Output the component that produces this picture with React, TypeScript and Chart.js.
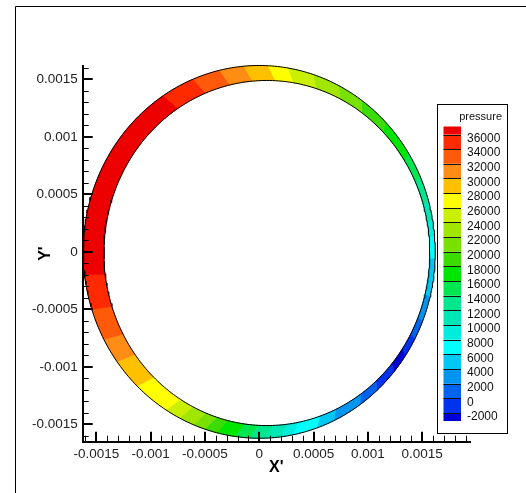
import { useEffect, useRef } from "react";
import { Chart, registerables } from "chart.js";

Chart.register(...registerables);

// ---- Data ----
// Boundaries (degrees, counter-clockwise from +X', around the bearing centre) of the contour cells of the ring
const cellAngles = [
  -180, -173, -162, -152, -144, -134, -122, -117, -112, -108, -104, -98, -93, -88, -83, -79,
  -71, -65, -55, -48, -40, -34, -28, -22, -14, -2, 5, 10, 16, 24, 32, 44, 54, 63, 72, 80.5,
  87, 95, 103, 112, 123, 180,
];
// Pressure in each cell (between consecutive boundaries above)
const cellPressure = [
  37000, 35000, 33000, 31000, 29000, 27000, 25000, 23000, 21000, 19000, 17000, 15000, 13000,
  11000, 9000, 7000, 5000, 3000, 1000, -1000, -3000, -1000, 1000, 3000, 5000, 7000, 9000,
  11000, 13000, 15000, 17000, 19000, 21000, 23000, 25000, 27000, 29000, 31000, 33000, 35000,
  37000,
];
// Contour levels shown in the legend
const levels = [
  36000, 34000, 32000, 30000, 28000, 26000, 24000, 22000, 20000, 18000, 16000, 14000, 12000,
  10000, 8000, 6000, 4000, 2000, 0, -2000,
];
// Band colours, from above the highest level down to below the lowest level
const bandColors = [
  "#ec0000", "#ff2a00", "#ff5a0a", "#ff8c14", "#ffc000", "#ffff00", "#c8f000", "#a0e600",
  "#78e100", "#3cdc00", "#00e600", "#00e650", "#00e68c", "#00e6b4", "#00ecdc", "#00ffff",
  "#00c8f5", "#0096f0", "#0064f0", "#0032f0", "#0000d2",
];
// Axis tick values
const axisTicks = [-0.0015, -0.001, -0.0005, 0, 0.0005, 0.001, 0.0015];

// Geometry of the ring (bearing bore and eccentric journal)
const OUTER_R = 0.00162;
const OUTER_C = { x: 0, y: 0 };
const INNER_R = 0.0015;
const INNER_C = { x: 0.00007, y: -0.00001 };

const X_MIN = -0.001625;
const X_MAX = 0.00194;
const Y_MIN = -0.00165;
const Y_MAX = 0.00162;
const MINOR = 0.0001;

const FONT = "'Liberation Sans', Arial, sans-serif";

function bandIndex(p: number): number {
  if (p >= levels[0]) return 0;
  for (let i = 1; i < levels.length; i++) {
    if (p >= levels[i]) return i;
  }
  return levels.length;
}

function arc(c: { x: number; y: number }, r: number, a0: number, a1: number) {
  const n = Math.max(2, Math.ceil(Math.abs(a1 - a0)));
  const pts: { x: number; y: number }[] = [];
  for (let i = 0; i <= n; i++) {
    const a = ((a0 + ((a1 - a0) * i) / n) * Math.PI) / 180;
    pts.push({ x: c.x + r * Math.cos(a), y: c.y + r * Math.sin(a) });
  }
  return pts;
}

function buildDatasets() {
  const ds: any[] = [];
  for (let i = 0; i < cellPressure.length; i++) {
    const a0 = cellAngles[i];
    const a1 = cellAngles[i + 1];
    const outer = arc(OUTER_C, OUTER_R, a0, a1);
    const inner = arc(INNER_C, INNER_R, a1, a0);
    const pts = [...outer, ...inner, outer[0]];
    const col = bandColors[bandIndex(cellPressure[i])];
    ds.push({
      data: pts,
      showLine: true,
      fill: "shape",
      backgroundColor: col,
      borderColor: col,
      borderWidth: 0.8,
      pointRadius: 0,
      tension: 0,
      order: 2,
      clip: false,
    });
  }
  ds.push({
    data: arc(OUTER_C, OUTER_R, 0, 360),
    showLine: true,
    fill: false,
    borderColor: "#000",
    borderWidth: 1,
    pointRadius: 0,
    order: 0,
    clip: false,
  });
  ds.push({
    data: arc(INNER_C, INNER_R, 0, 360),
    showLine: true,
    fill: false,
    borderColor: "#000",
    borderWidth: 1,
    pointRadius: 0,
    order: 0,
    clip: false,
  });
  return ds;
}

const framePlugin = {
  id: "frame",
  beforeDraw(chart: any) {
    const { ctx, width, height } = chart;
    ctx.save();
    ctx.fillStyle = "#fff";
    ctx.fillRect(0, 0, width, height);
    ctx.strokeStyle = "#000";
    ctx.lineWidth = 1;
    ctx.beginPath();
    ctx.moveTo(15.5, height);
    ctx.lineTo(15.5, 6.5);
    ctx.lineTo(width, 6.5);
    ctx.stroke();
    ctx.restore();
  },
};

const tickMarksPlugin = {
  id: "tickMarks",
  afterDatasetsDraw(chart: any) {
    const { ctx, chartArea: a, scales } = chart;
    const x = scales.x;
    const y = scales.y;
    ctx.save();
    ctx.strokeStyle = "#000";
    for (let k = Math.ceil(x.min / MINOR - 1e-6); k * MINOR <= x.max + 1e-12; k++) {
      const major = k % 5 === 0;
      const w = major ? 2 : 1;
      const px = Math.round(x.getPixelForValue(k * MINOR)) + (w === 1 ? 0.5 : 0);
      ctx.lineWidth = w;
      ctx.beginPath();
      ctx.moveTo(px, a.bottom);
      ctx.lineTo(px, a.bottom - (major ? 10 : 6));
      ctx.stroke();
    }
    for (let k = Math.ceil(y.min / MINOR - 1e-6); k * MINOR <= y.max + 1e-12; k++) {
      const major = k % 5 === 0;
      const w = major ? 2 : 1;
      const py = Math.round(y.getPixelForValue(k * MINOR)) + (w === 1 ? 0.5 : 0);
      ctx.lineWidth = w;
      ctx.beginPath();
      ctx.moveTo(a.left, py);
      ctx.lineTo(a.left + (major ? 10 : 6), py);
      ctx.stroke();
    }
    ctx.restore();
  },
};

const legendPlugin = {
  id: "contourLegend",
  afterDraw(chart: any) {
    const ctx = chart.ctx;
    const boxL = 437.5, boxT = 104.5, boxW = 70, boxH = 329;
    const swL = 443.5, swW = 17.5;
    const firstLine = 134.5, step = 14.66, half = 8;
    ctx.save();
    ctx.fillStyle = "#fff";
    ctx.fillRect(boxL, boxT, boxW, boxH);
    ctx.strokeStyle = "#000";
    ctx.lineWidth = 1;
    ctx.strokeRect(boxL, boxT, boxW, boxH);

    ctx.fillStyle = "#111";
    ctx.font = `11px ${FONT}`;
    ctx.textAlign = "right";
    ctx.textBaseline = "middle";
    ctx.fillText("pressure", 502, 116.5);

    const lineY = (i: number) => firstLine + i * step;
    for (let b = 0; b <= levels.length; b++) {
      const top = b === 0 ? lineY(0) - half : lineY(b - 1);
      const bottom = b === levels.length ? lineY(levels.length - 1) + half : lineY(b);
      ctx.fillStyle = bandColors[b];
      ctx.fillRect(swL, top, swW, bottom - top);
    }
    ctx.strokeStyle = "#111";
    ctx.lineWidth = 1;
    for (let i = 0; i < levels.length; i++) {
      const yy = Math.round(lineY(i)) + 0.5;
      ctx.beginPath();
      ctx.moveTo(swL, yy);
      ctx.lineTo(swL + swW, yy);
      ctx.stroke();
    }
    ctx.fillStyle = "#111";
    ctx.font = `12px ${FONT}`;
    ctx.textAlign = "left";
    ctx.textBaseline = "middle";
    for (let i = 0; i < levels.length; i++) {
      ctx.fillText(String(levels[i]), 467, lineY(i) + 4);
    }
    ctx.restore();
  },
};

function fmt(v: number): string {
  return parseFloat(Number(v).toFixed(4)).toString();
}

export default function App() {
  const ref = useRef<HTMLCanvasElement>(null);
  useEffect(() => {
    if (!ref.current) return;
    const chart = new Chart(ref.current, {
      type: "scatter",
      data: { datasets: buildDatasets() },
      options: {
        responsive: false,
        animation: false,
        events: [],
        devicePixelRatio: 1,
        layout: { padding: { left: 0, top: 65.5, right: 56, bottom: 0 } },
        plugins: { legend: { display: false }, tooltip: { enabled: false } },
        scales: {
          x: {
            type: "linear",
            min: X_MIN,
            max: X_MAX,
            afterBuildTicks: (s: any) => {
              s.ticks = axisTicks.map((v) => ({ value: v }));
            },
            afterFit: (s: any) => {
              s.height = 51.3;
            },
            grid: { display: false, drawTicks: false },
            border: { display: true, color: "#000", width: 2 },
            ticks: {
              autoSkip: false,
              maxRotation: 0,
              padding: 4,
              color: "#222",
              font: { family: FONT, size: 13.5 },
              callback: (v: any) => fmt(v),
            },
            title: {
              display: true,
              text: "X'",
              color: "#000",
              font: { family: FONT, size: 16, weight: "bold" },
              padding: { top: 0, bottom: 15.4 },
            },
          },
          y: {
            type: "linear",
            min: Y_MIN,
            max: Y_MAX,
            afterBuildTicks: (s: any) => {
              s.ticks = axisTicks.map((v) => ({ value: v }));
            },
            afterFit: (s: any) => {
              s.width = 82.7;
            },
            grid: { display: false, drawTicks: false },
            border: { display: true, color: "#000", width: 2 },
            ticks: {
              autoSkip: false,
              padding: 5,
              color: "#222",
              font: { family: FONT, size: 13.5 },
              callback: (v: any) => fmt(v),
            },
            title: {
              display: true,
              text: "Y'",
              color: "#000",
              font: { family: FONT, size: 16, weight: "bold" },
              padding: { top: 36, bottom: 0 },
            },
          },
        },
      } as any,
      plugins: [framePlugin, tickMarksPlugin, legendPlugin],
    });
    return () => chart.destroy();
  }, []);
  return (
    <div style={{ position: "fixed", left: 0, top: 0, width: 526, height: 493, background: "#fff" }}>
      <canvas ref={ref} width={526} height={493} style={{ display: "block", width: 526, height: 493 }} />
    </div>
  );
}
